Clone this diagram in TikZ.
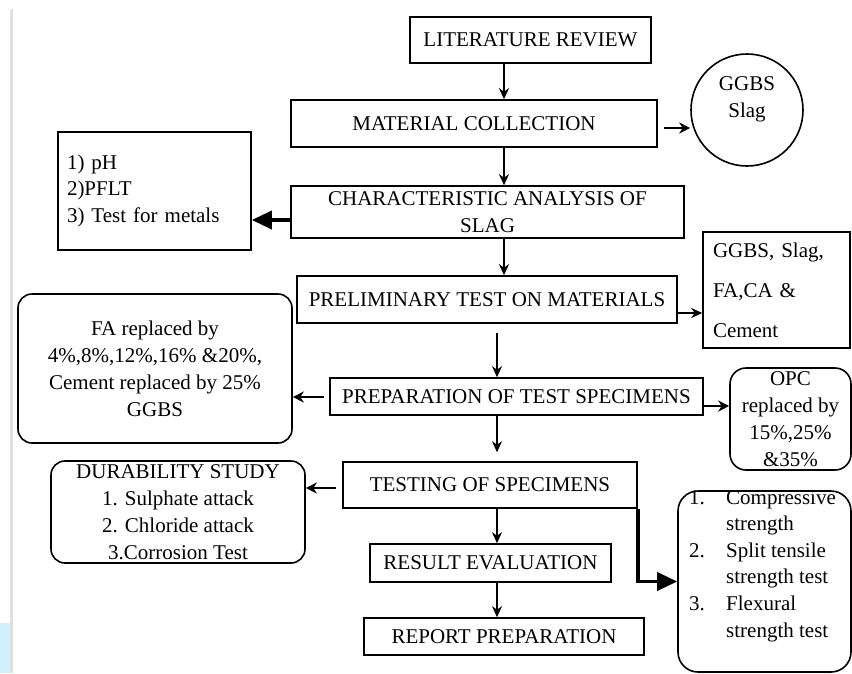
\documentclass[tikz,border=0pt]{standalone}
\usepackage{fontspec}
\setmainfont{Liberation Serif}
\usetikzlibrary{arrows.meta}
\begin{document}
\begin{tikzpicture}[x=1pt,y=-1pt,
  txt/.style={font=\fontsize{21}{27}\selectfont},
  box/.style={draw,line width=1.6pt,rectangle,inner sep=0pt,align=center,txt},
  rbox/.style={box,rounded corners=14pt},
  arr/.style={line width=1.6pt,-{Stealth[length=11pt,width=10pt,inset=3.5pt]}},
  harr/.style={line width=2.6pt,-{Stealth[length=11pt,width=11pt,inset=3.5pt]}},
  tarr/.style={line width=3.6pt,-{Triangle[length=20pt,width=18pt]}}]
\useasboundingbox (0,0) rectangle (852,673);
\fill[white] (0,0) rectangle (852,673);
% decorative left margin
\fill[black!12] (10,9) rectangle (13,673);
\fill[cyan!18] (0,623) rectangle (10,673);
% main column
\node[box,minimum width=241,minimum height=46] (lit) at (530.5,40) {LITERATURE REVIEW};
\node[box,minimum width=366,minimum height=47] (mat) at (474,123.5) {MATERIAL COLLECTION};
\node[circle,draw,line width=1.6pt,minimum size=112,inner sep=0pt] (ggbs) at (747,110) {};
\node[txt,align=center,inner sep=0pt] (ggbstxt) at (747,99) {GGBS\\Slag};
\node[box,minimum width=393,minimum height=52] (char) at (487.5,212) {CHARACTERISTIC ANALYSIS OF\\SLAG};
\node[box,minimum width=193,minimum height=118,align=left,text width=175,inner xsep=9pt] (pbox) at (154.5,191)
  {\fontsize{21}{26}\selectfont 1) pH\\2)PFLT\\3) Test for metals};
\node[box,minimum width=380,minimum height=47] (ptm) at (487,299.5) {PRELIMINARY TEST ON MATERIALS};
\node[box,minimum width=147,minimum height=116,align=left,text width=127,inner xsep=10pt] (mbox) at (776.5,290)
  {GGBS, Slag,\\[13pt]FA,CA \&\\[13pt]Cement};
\node[rbox,minimum width=274,minimum height=149] (fabox) at (155,368.5)
  {\fontsize{21}{26.5}\selectfont FA replaced by\\4\%,8\%,12\%,16\% \&20\%,\\Cement replaced by 25\%\\GGBS};
\node[box,minimum width=373,minimum height=37] (pts) at (516.5,396.5) {PREPARATION OF TEST SPECIMENS};
\node[rbox,minimum width=121,minimum height=102,rounded corners=16pt] (opc) at (790.5,419)
  {OPC\\replaced by\\15\%,25\%\\\&35\%};
\node[box,minimum width=294,minimum height=46] (test) at (490,485) {TESTING OF SPECIMENS};
\node[rbox,minimum width=254,minimum height=102] (dur) at (178,512)
  {\fontsize{21}{26.7}\selectfont DURABILITY STUDY\\1. Sulphate attack\\2. Chloride attack\\3.Corrosion Test};
\node[box,minimum width=241,minimum height=38] (re) at (490.5,563) {RESULT EVALUATION};
\node[box,minimum width=280,minimum height=37] (rp) at (504,636.5) {REPORT PREPARATION};
\node[rbox,minimum width=173,minimum height=181,rounded corners=20pt] (resbox) at (764.5,581.5) {};
\node[txt,anchor=base west,inner sep=0pt] (restxt) at (689,504)
  {\fontsize{21}{26.6}\selectfont\begin{tabular}[t]{@{}p{37pt}@{}l@{}}
  1. & Compressive\\
     & strength\\
  2. & Split tensile\\
     & strength test\\
  3. & Flexural\\
     & strength test
  \end{tabular}};
% helper coordinates
\coordinate (c1) at (504,0);
\coordinate (c2) at (497,0);
\coordinate (y128) at (0,128);
\coordinate (y220) at (0,220);
\coordinate (y313) at (0,313);
\coordinate (y397) at (0,397);
\coordinate (y406) at (0,406);
\coordinate (y488) at (0,488);
% vertical flow
\draw[arr] (lit.south -| c1) -- (mat.north -| c1);
\draw[arr] (mat.south -| c1) -- (char.north -| c1);
\draw[arr] (char.south -| c1) -- (ptm.north -| c1);
\draw[arr,shorten <=9pt] (ptm.south -| c2) -- (pts.north -| c2);
\draw[arr,shorten >=9pt] (pts.south -| c2) -- (test.north -| c2);
\draw[arr] (test.south -| c2) -- (re.north -| c2);
\draw[arr] (re.south -| c2) -- (rp.north -| c2);
% side arrows
\draw[harr,shorten <=6pt] (mat.east |- y128) -- (ggbs.west |- y128);
\draw[tarr] (char.west |- y220) -- (pbox.east |- y220);
\draw[arr] (ptm.east |- y313) -- (mbox.west |- y313);
\draw[harr,shorten <=5pt] (pts.west |- y397) -- (fabox.east |- y397);
\draw[harr] (pts.east |- y406) -- (opc.west |- y406);
\draw[harr,shorten <=6pt] (test.west |- y488) -- (dur.east |- y488);
\draw[tarr] (test.south east) |- (resbox.west);
\end{tikzpicture}
\end{document}
